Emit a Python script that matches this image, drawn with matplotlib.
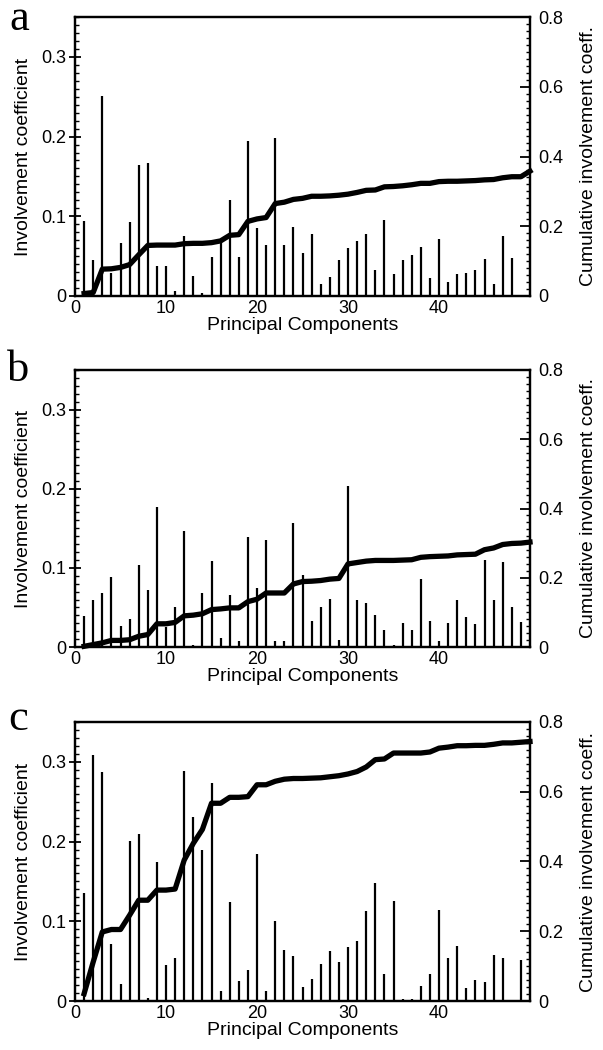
import matplotlib
matplotlib.use("Agg")
import matplotlib.pyplot as plt
from matplotlib.ticker import MultipleLocator, FixedLocator, FuncFormatter

plt.rcParams['font.family'] = ['Liberation Sans', 'DejaVu Sans']

# ---- data ----
pcs_bar = list(range(1, 50))
pcs_cum = list(range(1, 51))

coef_a = [0.094, 0.045, 0.251, 0.029, 0.067, 0.093, 0.164, 0.167, 0.038, 0.038,
          0.006, 0.075, 0.025, 0.004, 0.049, 0.068, 0.120, 0.049, 0.194, 0.085,
          0.064, 0.198, 0.064, 0.087, 0.054, 0.078, 0.015, 0.024, 0.045, 0.060,
          0.069, 0.078, 0.033, 0.095, 0.028, 0.045, 0.052, 0.062, 0.022, 0.072,
          0.017, 0.028, 0.029, 0.032, 0.047, 0.015, 0.075, 0.048, 0.0]
cum_a = [0.007, 0.010, 0.077, 0.078, 0.082, 0.090, 0.118, 0.145, 0.146, 0.146,
         0.146, 0.150, 0.151, 0.151, 0.153, 0.158, 0.174, 0.176, 0.214, 0.221,
         0.225, 0.265, 0.269, 0.277, 0.280, 0.286, 0.286, 0.287, 0.289, 0.292,
         0.297, 0.303, 0.304, 0.313, 0.314, 0.316, 0.319, 0.323, 0.323, 0.328,
         0.329, 0.329, 0.330, 0.331, 0.333, 0.334, 0.339, 0.342, 0.342, 0.358]

coef_b = [0.039, 0.059, 0.068, 0.089, 0.027, 0.035, 0.104, 0.072, 0.177, 0.025,
          0.051, 0.146, 0.003, 0.068, 0.109, 0.011, 0.066, 0.008, 0.139, 0.074,
          0.135, 0.008, 0.007, 0.157, 0.091, 0.033, 0.050, 0.061, 0.009, 0.204,
          0.059, 0.055, 0.040, 0.021, 0.003, 0.030, 0.021, 0.086, 0.033, 0.007,
          0.030, 0.060, 0.038, 0.029, 0.110, 0.060, 0.107, 0.050, 0.032]
cum_b = [0.002, 0.007, 0.012, 0.019, 0.019, 0.021, 0.031, 0.036, 0.067, 0.067,
         0.071, 0.090, 0.092, 0.096, 0.108, 0.110, 0.113, 0.113, 0.131, 0.138,
         0.156, 0.156, 0.156, 0.182, 0.189, 0.190, 0.192, 0.196, 0.198, 0.240,
         0.244, 0.248, 0.250, 0.250, 0.250, 0.251, 0.252, 0.259, 0.261, 0.262,
         0.263, 0.266, 0.267, 0.268, 0.281, 0.286, 0.296, 0.299, 0.300, 0.303]

coef_c = [0.136, 0.308, 0.287, 0.072, 0.021, 0.201, 0.209, 0.004, 0.175, 0.045,
          0.054, 0.289, 0.231, 0.189, 0.274, 0.013, 0.124, 0.025, 0.039, 0.185,
          0.013, 0.100, 0.064, 0.057, 0.018, 0.028, 0.047, 0.063, 0.049, 0.068,
          0.075, 0.113, 0.148, 0.034, 0.126, 0.003, 0.003, 0.019, 0.034, 0.114,
          0.054, 0.069, 0.016, 0.026, 0.024, 0.058, 0.054, 0.0, 0.052]
cum_c = [0.021, 0.112, 0.198, 0.205, 0.205, 0.246, 0.289, 0.289, 0.318, 0.318,
         0.321, 0.404, 0.452, 0.492, 0.567, 0.567, 0.584, 0.584, 0.586, 0.620,
         0.620, 0.630, 0.636, 0.638, 0.638, 0.639, 0.640, 0.643, 0.646, 0.651,
         0.658, 0.671, 0.692, 0.694, 0.711, 0.711, 0.711, 0.711, 0.714, 0.725,
         0.728, 0.732, 0.732, 0.733, 0.733, 0.736, 0.740, 0.740, 0.742, 0.744]

panel_letters = ['a', 'b', 'c']
left_ticks = [0, 0.1, 0.2, 0.3]
right_ticks = [0, 0.2, 0.4, 0.6, 0.8]
x_ticks = [0, 10, 20, 30, 40]

W, H = 603, 1050
fig = plt.figure(figsize=(W / 100, H / 100), dpi=100)

# axes boxes in pixels: (left, top, right, bottom)
boxes = [(75, 17, 530, 296), (75, 370, 530, 647), (75, 722, 530, 1001)]
letter_pos = [(9, 30), (7, 381), (8, 730)]
panels = [(coef_a, cum_a), (coef_b, cum_b), (coef_c, cum_c)]


def fmt(v, pos):
    if abs(v) < 1e-9:
        return "0"
    return f"{v:.1f}"


for (l, t, r, b), (coef, cum), letter, (lx, ly) in zip(boxes, panels, panel_letters, letter_pos):
    ax = fig.add_axes([l / W, 1 - b / H, (r - l) / W, (b - t) / H])
    ax.vlines(pcs_bar, 0, coef, color='black', lw=1.6)
    ax.set_xlim(0, 50)
    ax.set_ylim(0, 0.35)
    ax.yaxis.set_major_locator(FixedLocator(left_ticks))
    ax.yaxis.set_minor_locator(MultipleLocator(0.01))
    ax.yaxis.set_major_formatter(FuncFormatter(fmt))
    ax.xaxis.set_major_locator(FixedLocator(x_ticks))
    ax.tick_params(axis='y', which='major', direction='inout', length=8, width=1.3,
                   labelsize=13, pad=2, left=True, right=False)
    ax.tick_params(axis='y', which='minor', direction='in', length=3, width=1.0)
    ax.tick_params(axis='x', which='both', length=0, labelsize=13, pad=3)
    for s in ax.spines.values():
        s.set_linewidth(1.6)
    ax.set_ylabel("Involvement coefficient", fontsize=14, labelpad=7)
    ax.set_xlabel("Principal Components", fontsize=14, labelpad=0)

    ax2 = ax.twinx()
    ax2.plot(pcs_cum, cum, color='black', lw=3.8, solid_joinstyle='round', clip_on=False)
    ax2.set_xlim(0, 50)
    ax2.set_ylim(0, 0.8)
    ax2.yaxis.set_major_locator(FixedLocator(right_ticks))
    ax2.yaxis.set_minor_locator(MultipleLocator(0.02))
    ax2.yaxis.set_major_formatter(FuncFormatter(fmt))
    ax2.tick_params(axis='y', which='major', direction='in', length=7, width=1.3,
                    labelsize=13, pad=6)
    ax2.tick_params(axis='y', which='minor', direction='in', length=3, width=1.0)
    for s in ax2.spines.values():
        s.set_linewidth(1.6)
    ax2.set_ylabel("Cumulative involvement coeff.", fontsize=14, labelpad=12)

    fig.text(lx / W, 1 - ly / H, letter, fontsize=32,
             family=['Liberation Serif', 'DejaVu Serif'], ha='left', va='baseline')

fig.savefig("out.png", dpi=100)
